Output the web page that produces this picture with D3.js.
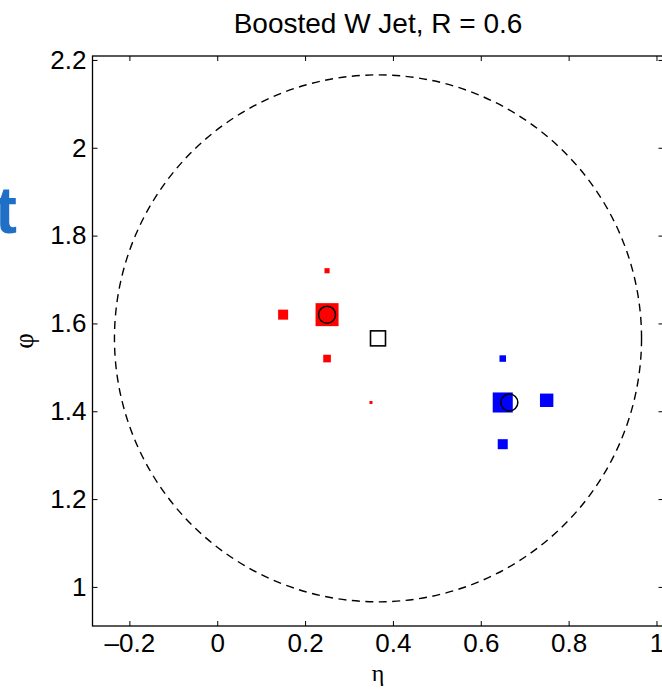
<!DOCTYPE html>
<html>
<head>
<meta charset="utf-8">
<script src="https://cdn.jsdelivr.net/npm/d3@7"></script>
<style>
  body { margin: 0; background: #fff; }
  svg { display: block; }
</style>
</head>
<body>
<div id="plot"></div>
<script>
// Red (W daughter 1) cells: eta, phi, pT
var redEta = [0.25, 0.15, 0.25, 0.25, 0.35];
var redPhi = [1.62, 1.62, 1.72, 1.52, 1.42];
var redPt = [100, 19, 5, 11, 1.7];

// Blue (W daughter 2) cells
var blueEta = [0.65, 0.75, 0.65, 0.65];
var bluePhi = [1.42, 1.425, 1.52, 1.325];
var bluePt = [76, 34, 8, 19];

// subjet axes (open circles)
var axisEta = [0.25, 0.665];
var axisPhi = [1.62, 1.42];

// jet axis and jet radius
var jetEta = 0.366, jetPhi = 1.566, jetR = 0.6;

var xTicks = [-0.2, 0, 0.2, 0.4, 0.6, 0.8, 1];
var yTicks = [1, 1.2, 1.4, 1.6, 1.8, 2, 2.2];
var xDomain = [-0.284, 1.016];
var yDomain = [0.911, 2.209];

var width = 662, height = 689;
var mLeft = 92.5, mRight = 663.5, mTop = 56, mBottom = 626;

var svg = d3.select("div#plot").append("svg")
    .attr("width", width)
    .attr("height", height)
    .attr("viewBox", "0 0 " + width + " " + height);

var x = d3.scaleLinear().domain(xDomain).range([mLeft, mRight]);
var y = d3.scaleLinear().domain(yDomain).range([mBottom, mTop]);
var side = d3.scaleSqrt().domain([0, 100]).range([0, 23]);

var fmt = function(d) { return d < 0 ? "\u2013" + Math.abs(d) : String(d); };
var font = "'Liberation Sans', Arial, Helvetica, sans-serif";

// cropped slide title letter at the left edge
svg.append("text")
    .attr("x", 17)
    .attr("y", 233)
    .attr("text-anchor", "end")
    .style("font-family", font)
    .style("font-weight", "bold")
    .style("font-size", "66px")
    .style("fill", "#1f6fc6")
    .text("t");

// axes with inward ticks
svg.append("g")
    .attr("transform", "translate(0," + mBottom + ")")
    .call(d3.axisBottom(x).tickValues(xTicks).tickFormat(fmt)
        .tickSizeInner(-5).tickSizeOuter(0).tickPadding(8));
svg.append("g")
    .attr("transform", "translate(0," + mTop + ")")
    .call(d3.axisTop(x).tickValues(xTicks).tickFormat("")
        .tickSizeInner(-5).tickSizeOuter(0));
svg.append("g")
    .attr("transform", "translate(" + mLeft + ",0)")
    .call(d3.axisLeft(y).tickValues(yTicks).tickFormat(fmt)
        .tickSizeInner(-5).tickSizeOuter(0).tickPadding(6));
svg.append("g")
    .attr("transform", "translate(" + mRight + ",0)")
    .call(d3.axisRight(y).tickValues(yTicks).tickFormat("")
        .tickSizeInner(-5).tickSizeOuter(0));

svg.selectAll(".domain").remove();
svg.selectAll(".tick line").style("stroke", "#000").style("stroke-width", 1);
svg.selectAll(".tick text")
    .style("font-family", font)
    .style("font-size", "26px")
    .style("fill", "#000");

svg.append("rect")
    .attr("x", x(xDomain[0]))
    .attr("y", y(yDomain[1]))
    .attr("width", x(xDomain[1]) - x(xDomain[0]))
    .attr("height", y(yDomain[0]) - y(yDomain[1]))
    .style("fill", "none")
    .style("stroke", "#000")
    .style("stroke-width", 1.3);

// jet cone
svg.append("ellipse")
    .attr("cx", x(jetEta))
    .attr("cy", y(jetPhi))
    .attr("rx", x(jetEta + jetR) - x(jetEta))
    .attr("ry", y(jetPhi - jetR) - y(jetPhi))
    .style("fill", "none")
    .style("stroke", "#000")
    .style("stroke-width", 1.4)
    .style("stroke-dasharray", "8,5.5");

function cells(etas, phis, pts, color) {
    var data = d3.range(etas.length).map(function(i) {
        return { eta: etas[i], phi: phis[i], pt: pts[i] };
    });
    svg.append("g").selectAll("rect")
        .data(data)
        .join("rect")
            .attr("x", d => x(d.eta) - side(d.pt) / 2)
            .attr("y", d => y(d.phi) - side(d.pt) / 2)
            .attr("width", d => side(d.pt))
            .attr("height", d => side(d.pt))
            .style("fill", color);
}
cells(redEta, redPhi, redPt, "#ff0000");
cells(blueEta, bluePhi, bluePt, "#0000ff");

svg.append("g").selectAll("circle")
    .data(d3.range(axisEta.length))
    .join("circle")
        .attr("cx", i => x(axisEta[i]))
        .attr("cy", i => y(axisPhi[i]))
        .attr("r", 8.5)
        .style("fill", "none")
        .style("stroke", "#000")
        .style("stroke-width", 1.5);

svg.append("rect")
    .attr("x", x(jetEta) - 7.5)
    .attr("y", y(jetPhi) - 7.5)
    .attr("width", 15)
    .attr("height", 15)
    .style("fill", "none")
    .style("stroke", "#000")
    .style("stroke-width", 1.6);

// titles
svg.append("text")
    .attr("x", (mLeft + mRight) / 2)
    .attr("y", 33)
    .attr("text-anchor", "middle")
    .style("font-family", font)
    .style("font-size", "28px")
    .text("Boosted W Jet, R = 0.6");

svg.append("text")
    .attr("x", (mLeft + mRight) / 2)
    .attr("y", 681)
    .attr("text-anchor", "middle")
    .style("font-family", "'Liberation Serif', 'Times New Roman', serif")
    .style("font-size", "24px")
    .text("\u03b7");

svg.append("text")
    .attr("transform", "translate(33," + (mTop + mBottom) / 2 + ") rotate(-90)")
    .attr("text-anchor", "middle")
    .style("font-family", "'Liberation Serif', 'Times New Roman', serif")
    .style("font-size", "27px")
    .text("\u03c6");
</script>
</body>
</html>
